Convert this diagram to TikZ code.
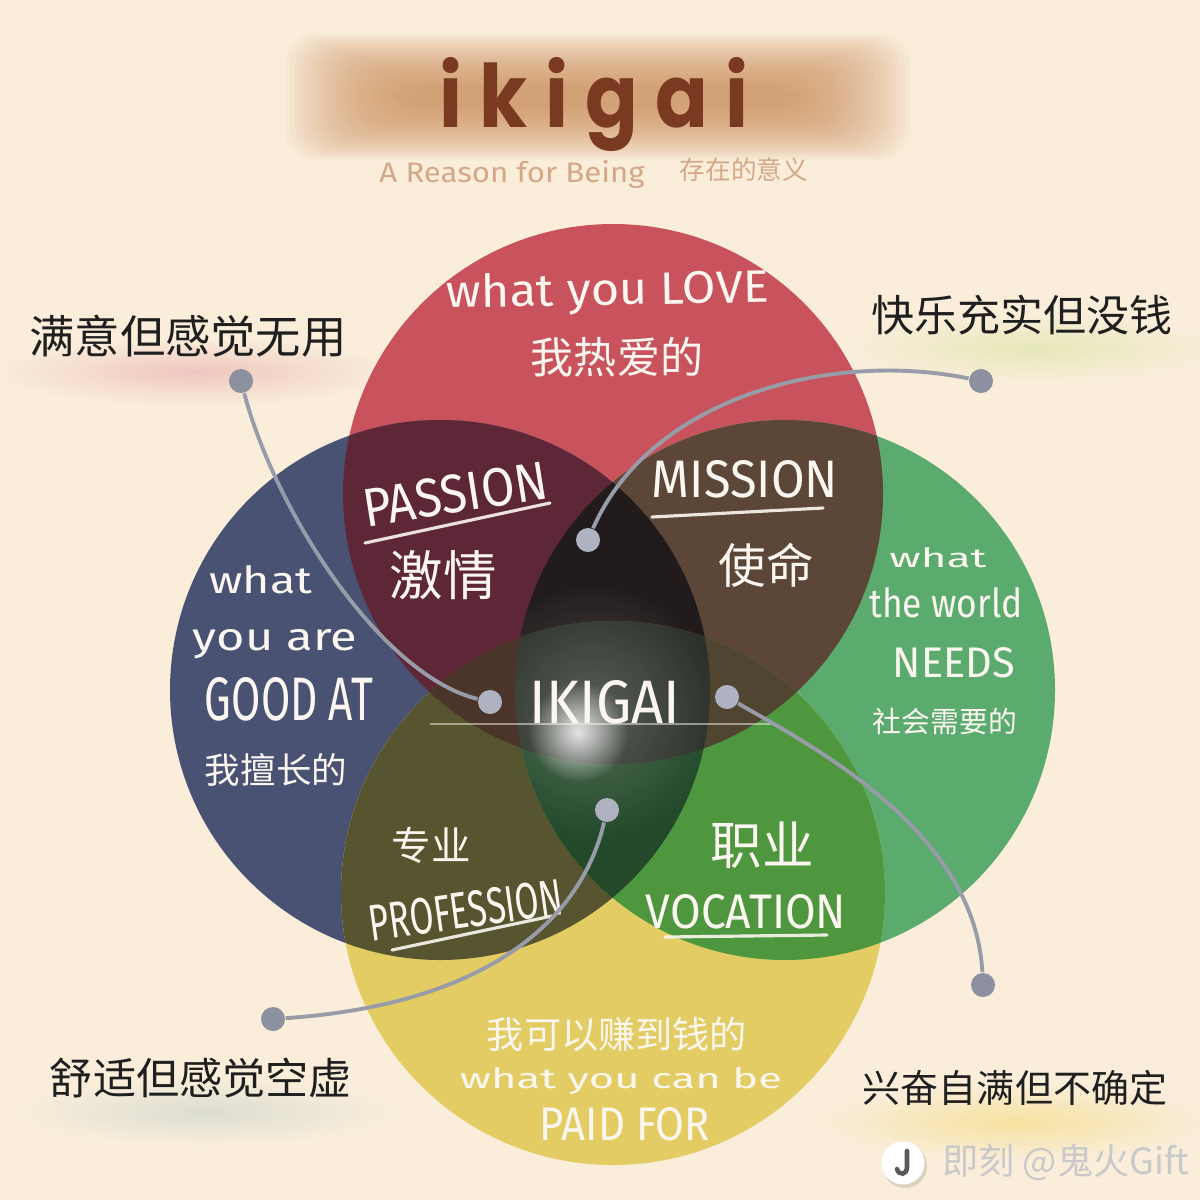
\documentclass[tikz,border=0pt]{standalone}
\usepackage{fontspec}
\setmainfont{Fira Sans}
\newfontfamily\cjk{Noto Sans CJK SC}
\newfontfamily\ttlfont{Poppins}
\usepackage{graphicx}
\usetikzlibrary{fadings}
\tikzfading[name=softglow, inner color=transparent!0, outer color=transparent!100]
\definecolor{bg}{HTML}{FAEEDB}
\definecolor{band}{HTML}{CF925F}
\definecolor{cR}{HTML}{C9535D}
\definecolor{cB}{HTML}{4A5273}
\definecolor{cG}{HTML}{5AAB6D}
\definecolor{cY}{HTML}{E3CC63}
\definecolor{cRB}{HTML}{5E2737}
\definecolor{cRG}{HTML}{5B4637}
\definecolor{cBY}{HTML}{57552F}
\definecolor{cGY}{HTML}{4F973F}
\definecolor{cRBG}{HTML}{221B1C}
\definecolor{cBGY}{HTML}{23482A}
\definecolor{cRBY}{HTML}{4B3429}
\definecolor{cRGY}{HTML}{4F4530}
\definecolor{cQ}{HTML}{2B3129}
\definecolor{labw}{HTML}{FBF7F0}
\definecolor{ink}{HTML}{1F1F1F}
\definecolor{ttlc}{HTML}{7A3A22}
\definecolor{subc}{HTML}{D4A887}
\definecolor{wmc}{HTML}{C9C9C9}
\definecolor{lnc}{HTML}{989CA8}
\definecolor{dotout}{HTML}{8D909E}
\definecolor{dotin}{HTML}{AEB2C1}
\definecolor{gpink}{HTML}{F0C6C0}
\definecolor{ggreen}{HTML}{E6E8B8}
\definecolor{ggray}{HTML}{DCDDD2}
\definecolor{gyel}{HTML}{F7E2A0}
\newcommand{\zh}[2]{\resizebox{#1}{!}{\cjk #2}}
\newcommand{\en}[3]{\resizebox{#1}{#2}{#3}}
\begin{document}
\begin{tikzpicture}[x=0.01cm,y=-0.01cm,
  wl/.style={text=labw, inner sep=0pt},
  cn/.style={text=ink, inner sep=0pt},
  dotA/.style={circle, fill=dotout, minimum size=0.24cm, inner sep=0pt},
  dotB/.style={circle, fill=dotin, minimum size=0.24cm, inner sep=0pt},
  conn/.style={draw=lnc, line width=1.1pt},
  uline/.style={draw=labw, line width=0.9pt, line cap=round, opacity=0.9}]
\def\cRed{(613,494) circle[radius=270]}
\def\cBlue{(440,690) circle[radius=270]}
\def\cGreen{(785,690) circle[radius=270]}
\def\cYel{(613,893) circle[radius=272]}
\useasboundingbox (0,0) rectangle (1200,1200);
\fill[bg] (0,0) rectangle (1200,1200);
% title band
\foreach \i in {0,...,23} {
  \fill[band, opacity=0.06, rounded corners=0.3cm] ({285+\i*5},{34+\i*2.3}) rectangle ({910-\i*5},{160-\i*2.3});
}
% soft glows under corner labels
\fill[gpink, path fading=softglow] (195,372) ellipse[x radius=200, y radius=34];
\fill[ggreen, path fading=softglow] (1035,348) ellipse[x radius=190, y radius=34];
\fill[ggray, path fading=softglow] (205,1112) ellipse[x radius=190, y radius=34];
\fill[gyel, path fading=softglow] (1015,1122) ellipse[x radius=200, y radius=38];
% circles
\fill[cR] \cRed;
\fill[cB] \cBlue;
\fill[cG] \cGreen;
\fill[cY] \cYel;
\begin{scope}\clip \cRed; \fill[cRB] \cBlue; \fill[cRG] \cGreen; \end{scope}
\begin{scope}\clip \cYel; \fill[cBY] \cBlue; \fill[cGY] \cGreen; \end{scope}
\begin{scope}\clip \cBlue; \clip \cGreen; \fill[cRBG] \cRed; \fill[cBGY] \cYel; \end{scope}
\begin{scope}\clip \cRed; \clip \cYel; \fill[cRBY] \cBlue; \fill[cRGY] \cGreen; \end{scope}
\begin{scope}\clip \cRed; \clip \cBlue; \clip \cGreen; \fill[cQ] \cYel; \end{scope}
% glow
\begin{scope}\clip \cBlue; \clip \cGreen;
  \fill[white, path fading=softglow, opacity=0.22] (592,712) circle[radius=130];
\end{scope}
\fill[white, path fading=softglow, opacity=0.85] (578,732) circle[radius=50];
\draw[labw, opacity=0.5, line width=0.5pt] (430,724) -- (775,724);
% underlines
\draw[uline] (365,543) -- (550,503);
\draw[uline] (652,517) -- (823,508);
\draw[uline] (392,950) -- (552,916);
\draw[uline] (665,937) -- (827,935);
% title
\node[anchor=base, text=ttlc, inner sep=0pt] (title) at (594,127)
  {\en{3.08cm}{0.70cm}{\ttlfont\bfseries i\kern.22em k\kern.22em i\kern.22em g\kern.22em a\kern.22em i}};
\node[anchor=base, text=subc, inner sep=0pt] (sub) at (512,182) {\en{2.65cm}{0.22cm}{A Reason for Being}};
\node[text=subc, inner sep=0pt] (subZh) at (744,170) {\zh{1.28cm}{存在的意义}};
% circle labels
\node[wl, anchor=base, rotate=1] (love) at (608,305) {\en{3.22cm}{0.34cm}{what you LOVE}};
\node[wl] (loveZh) at (617,357) {\zh{1.72cm}{我热爱的}};
\node[wl, rotate=9] (passion) at (455,494) {\en{1.86cm}{0.38cm}{PASSION}};
\node[wl] (passionZh) at (443,575) {\zh{1.07cm}{激情}};
\node[wl, anchor=base] (mission) at (745,497) {\en{1.86cm}{0.37cm}{MISSION}};
\node[wl] (missionZh) at (766,565) {\zh{0.95cm}{使命}};
\node[wl, anchor=base] (goodA) at (261,593) {\en{1.03cm}{0.28cm}{what}};
\node[wl, anchor=base] (goodB) at (275,650) {\en{1.64cm}{0.21cm}{you are}};
\node[wl, anchor=base] (goodC) at (289,720) {\en{1.68cm}{0.43cm}{GOOD AT}};
\node[wl] (goodZh) at (276,770) {\zh{1.42cm}{我擅长的}};
\node[wl, anchor=base] (needA) at (938,567) {\en{0.97cm}{0.20cm}{what}};
\node[wl, anchor=base] (needB) at (946,617) {\en{1.53cm}{0.30cm}{the world}};
\node[wl, anchor=base] (needC) at (954,677) {\en{1.22cm}{0.30cm}{NEEDS}};
\node[wl] (needZh) at (945,721) {\zh{1.44cm}{社会需要的}};
\node[wl, anchor=base] (ikigai) at (605,723) {\en{1.50cm}{0.43cm}{IKIGAI}};
\node[wl] (profZh) at (431,845) {\zh{0.79cm}{专业}};
\node[wl, rotate=8] (prof) at (466,910) {\en{1.95cm}{0.36cm}{PROFESSION}};
\node[wl] (vocZh) at (762,845) {\zh{1.03cm}{职业}};
\node[wl, anchor=base] (voc) at (746,928) {\en{2.00cm}{0.34cm}{VOCATION}};
\node[wl] (paidZh) at (617,1034) {\zh{2.60cm}{我可以赚到钱的}};
\node[wl, anchor=base] (paidA) at (621,1088) {\en{3.22cm}{0.21cm}{what you can be}};
\node[wl, anchor=base] (paidB) at (625,1140) {\en{1.70cm}{0.33cm}{PAID FOR}};
% corner labels
\node[cn] (tl) at (188,336) {\zh{3.17cm}{满意但感觉无用}};
\node[cn] (tr) at (1022,315) {\zh{3.01cm}{快乐充实但没钱}};
\node[cn] (bl) at (201,1078) {\zh{3.02cm}{舒适但感觉空虚}};
\node[cn] (br) at (1015,1088) {\zh{3.04cm}{兴奋自满但不确定}};
% connectors
\node[dotA] (tlA) at (241,381) {};
\node[dotB] (tlB) at (490,702) {};
\node[dotA] (trA) at (981,381) {};
\node[dotB] (trB) at (588,540) {};
\node[dotA] (brA) at (983,985) {};
\node[dotB] (brB) at (727,697) {};
\node[dotA] (blA) at (273,1019) {};
\node[dotB] (blB) at (607,810) {};
\draw[conn] (tlA) .. controls (275,510) and (380,675) .. (tlB);
\draw[conn] (trA) .. controls (830,350) and (650,398) .. (trB);
\draw[conn] (brB) .. controls (810,745) and (975,830) .. (brA);
\draw[conn] (blB) .. controls (580,925) and (480,1005) .. (blA);
% watermark
\fill[black, opacity=0.12] (905,1166) circle[radius=22];
\node[circle, fill=white, minimum size=0.43cm, inner sep=0pt] (icon) at (903,1163) {};
\draw[black!65, line width=1.3pt, line cap=round] (907,1151) -- (907,1167) .. controls (907,1175) and (899,1176) .. (897,1169);
\node[text=wmc, inner sep=0pt] (wm) at (1066,1162) {\zh{2.47cm}{即刻 @鬼火Gift}};
\end{tikzpicture}
\end{document}
